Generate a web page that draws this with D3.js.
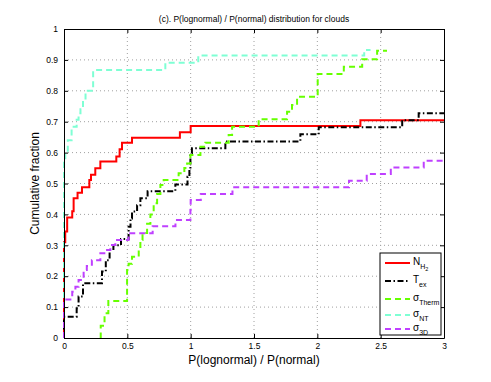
<!DOCTYPE html>
<html>
<head>
<meta charset="utf-8">
<script src="https://cdn.jsdelivr.net/npm/d3@7"></script>
<style>
  body { margin: 0; background: #fff; }
  svg text { font-family: "Liberation Sans", Arial, sans-serif; fill: #000; }
</style>
</head>
<body>
<div id="plotDiv"></div>
<script>
// tick values
var xTicks = [0, 0.5, 1, 1.5, 2, 2.5, 3];
var yTicks = [0, 0.1, 0.2, 0.3, 0.4, 0.5, 0.6, 0.7, 0.8, 0.9, 1];

// N_H2 (step after)
var nh2X = [0, 0, 0.01, 0.025, 0.065, 0.076, 0.107, 0.142, 0.2, 0.213, 0.247, 0.287, 0.413, 0.439, 0.458, 0.537, 0.915, 1.0, 2.34, 3];
var nh2Y = [0, 0.31, 0.345, 0.39, 0.41, 0.452, 0.47, 0.488, 0.511, 0.528, 0.549, 0.571, 0.587, 0.611, 0.632, 0.648, 0.666, 0.686, 0.705, 0.705];

// T_ex
var texX = [0, 0, 0.1, 0.115, 0.15, 0.3, 0.33, 0.36, 0.39, 0.45, 0.51, 0.525, 0.537, 0.577, 0.603, 0.66, 0.879, 0.975, 0.99, 0.998, 1.01, 1.274, 1.866, 2.011, 2.67, 2.8, 3];
var texY = [0, 0.069, 0.096, 0.134, 0.177, 0.215, 0.252, 0.285, 0.3, 0.32, 0.36, 0.387, 0.409, 0.43, 0.452, 0.475, 0.497, 0.522, 0.546, 0.598, 0.614, 0.636, 0.659, 0.682, 0.705, 0.727, 0.727];

// sigma_Therm
var thermX = [0.287, 0.29, 0.32, 0.35, 0.498, 0.51, 0.537, 0.59, 0.603, 0.62, 0.656, 0.682, 0.708, 0.735, 0.761, 0.787, 0.905, 0.95, 0.972, 0.998, 1.077, 1.116, 1.3, 1.327, 1.537, 1.761, 1.8, 1.84, 2.003, 2.209, 2.354, 2.472, 2.55];
var thermY = [0, 0.04, 0.08, 0.12, 0.22, 0.24, 0.263, 0.285, 0.317, 0.34, 0.37, 0.4, 0.436, 0.466, 0.495, 0.511, 0.533, 0.55, 0.565, 0.592, 0.619, 0.632, 0.657, 0.684, 0.708, 0.732, 0.754, 0.781, 0.854, 0.878, 0.902, 0.93, 0.93];

// sigma_NT
var ntX = [0, 0, 0.01, 0.03, 0.06, 0.1, 0.115, 0.13, 0.15, 0.17, 0.23, 0.8, 1.06, 2.37, 2.42];
var ntY = [0, 0.567, 0.6, 0.64, 0.684, 0.706, 0.727, 0.74, 0.77, 0.8, 0.867, 0.891, 0.914, 0.932, 0.932];

// sigma_3D
var s3dX = [0, 0, 0.065, 0.09, 0.115, 0.155, 0.18, 0.22, 0.287, 0.34, 0.366, 0.405, 0.51, 0.7, 0.88, 0.998, 1.0, 1.08, 1.33, 2.25, 2.39, 2.58, 2.84, 3];
var s3dY = [0, 0.125, 0.15, 0.166, 0.188, 0.22, 0.233, 0.252, 0.274, 0.285, 0.301, 0.317, 0.339, 0.362, 0.382, 0.414, 0.447, 0.466, 0.488, 0.509, 0.531, 0.552, 0.574, 0.574];

var series = [
    {name: "N", sub: "H", subsub: "2", xs: nh2X, ys: nh2Y, color: "#ff0000", dash: null},
    {name: "T", sub: "ex", xs: texX, ys: texY, color: "#000000", dash: "6,2.5,1.5,2.5"},
    {name: "\u03c3", sub: "Therm", xs: thermX, ys: thermY, color: "#66ff00", dash: "6,4"},
    {name: "\u03c3", sub: "NT", xs: ntX, ys: ntY, color: "#7fffd4", dash: "6,4"},
    {name: "\u03c3", sub: "3D", xs: s3dX, ys: s3dY, color: "#bf40ff", dash: "6,4"}
];

var width = 491, height = 382;
var margin = {top: 29, right: 47, bottom: 44, left: 64};
var plotW = width - margin.left - margin.right;
var plotH = height - margin.top - margin.bottom;

var svg = d3.select("#plotDiv")
    .append("svg")
    .attr("width", width)
    .attr("height", height);

var x = d3.scaleLinear().domain([0, 3]).range([margin.left, margin.left + plotW]);
var y = d3.scaleLinear().domain([0, 1]).range([margin.top + plotH, margin.top]);

// grid
var grid = svg.append("g").attr("id", "grid");
grid.selectAll(".gx")
    .data(xTicks.slice(1, -1))
    .enter().append("line")
    .attr("x1", d => x(d)).attr("x2", d => x(d))
    .attr("y1", y(0)).attr("y2", y(1))
    .attr("stroke", "#a0a0a0").attr("stroke-dasharray", "1,3");
grid.selectAll(".gy")
    .data(yTicks.slice(1, -1))
    .enter().append("line")
    .attr("x1", x(0)).attr("x2", x(3))
    .attr("y1", d => y(d)).attr("y2", d => y(d))
    .attr("stroke", "#a0a0a0").attr("stroke-dasharray", "1,3");

svg.append("clipPath").attr("id", "clip")
  .append("rect")
    .attr("x", x(0) - 2).attr("y", y(1) - 2)
    .attr("width", plotW + 2).attr("height", plotH + 2);

var line = d3.line()
    .x(d => x(d[0]))
    .y(d => y(d[1]))
    .curve(d3.curveStepAfter);

var lines = svg.append("g").attr("clip-path", "url(#clip)");
series.forEach(function(s) {
    lines.append("path")
        .datum(s.xs.map((v, i) => [v, s.ys[i]]))
        .attr("d", line)
        .attr("fill", "none")
        .attr("stroke", s.color)
        .attr("stroke-width", 2)
        .attr("stroke-dasharray", s.dash);
});

// axes (box with inward ticks on every side)
var axB = d3.axisBottom(x).tickValues(xTicks).tickSizeInner(-4).tickSizeOuter(0).tickPadding(5).tickFormat(d3.format("~g"));
var axL = d3.axisLeft(y).tickValues(yTicks).tickSizeInner(-4).tickSizeOuter(0).tickPadding(6).tickFormat(d3.format("~g"));
var axT = d3.axisTop(x).tickValues(xTicks).tickSizeInner(-4).tickSizeOuter(0).tickFormat("");
var axR = d3.axisRight(y).tickValues(yTicks).tickSizeInner(-4).tickSizeOuter(0).tickFormat("");

svg.append("g").attr("transform", "translate(0," + y(0) + ")").call(axB);
svg.append("g").attr("transform", "translate(" + x(0) + ",0)").call(axL);
svg.append("g").attr("transform", "translate(0," + y(1) + ")").call(axT);
svg.append("g").attr("transform", "translate(" + x(3) + ",0)").call(axR);
svg.selectAll(".tick text").attr("font-size", 8.5).attr("font-family", "Liberation Sans, Arial, sans-serif");
svg.selectAll(".domain, .tick line").attr("stroke", "#000");

// texts
svg.append("text")
    .attr("x", x(1.5)).attr("y", 22)
    .attr("text-anchor", "middle")
    .attr("font-size", 8.5)
    .text("(c). P(lognormal) / P(normal) distribution for clouds");

svg.append("text")
    .attr("x", x(1.5)).attr("y", 364)
    .attr("text-anchor", "middle")
    .attr("font-size", 12)
    .text("P(lognormal) / P(normal)");

svg.append("text")
    .attr("transform", "translate(39," + y(0.5) + ") rotate(-90)")
    .attr("text-anchor", "middle")
    .attr("font-size", 12)
    .text("Cumulative fraction");

// legend
var legend = svg.append("g").attr("transform", "translate(380,253)");
legend.append("rect")
    .attr("width", 61).attr("height", 82)
    .attr("fill", "#fff").attr("stroke", "#000");

var rowY = [10, 28, 46, 62, 76];
series.forEach(function(s, i) {
    var g = legend.append("g").attr("transform", "translate(0," + rowY[i] + ")");
    g.append("line")
        .attr("x1", 5).attr("x2", 30)
        .attr("stroke", s.color)
        .attr("stroke-width", 2)
        .attr("stroke-dasharray", s.dash);
    var t = g.append("text").attr("x", 33).attr("y", 2).attr("font-size", 10);
    t.append("tspan").text(s.name);
    t.append("tspan").attr("dy", 3.5).attr("font-size", 7).text(s.sub);
    if (s.subsub) t.append("tspan").attr("dy", 2).attr("font-size", 5.5).text(s.subsub);
});
</script>
</body>
</html>
